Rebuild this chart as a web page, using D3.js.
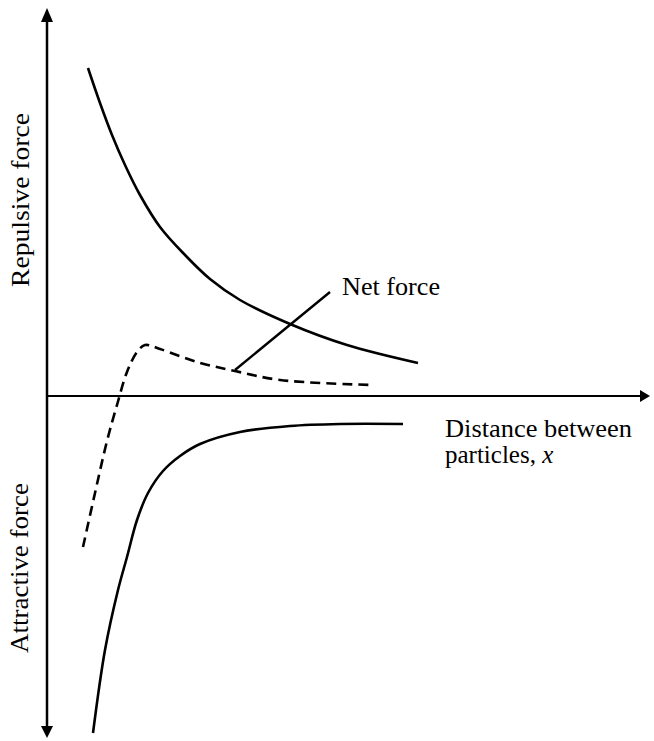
<!DOCTYPE html>
<html><head><meta charset="utf-8">
<script src="https://cdn.jsdelivr.net/npm/d3@7"></script>
<style>html,body{margin:0;padding:0;background:#fff;}</style>
</head><body>
<script>
// Data (arbitrary units: distance x, force y)
const repulsiveX = [4.1,5.3,6.5,7.8,9.3,11.3,13.8,16.3,19.3,24.3,30.0,37.1];
const repulsiveY = [32.8,29.3,26.1,23.1,20.1,16.9,14.1,11.7,9.6,7.2,5.1,3.3];
const netX = [3.6,4.8,6.0,7.0,8.0,9.0,9.8,11.3,15.0,18.8,23.3,32.6];
const netY = [-15.1,-9.7,-4.5,-0.9,2.4,4.4,5.1,4.7,3.4,2.5,1.6,1.1];
const attractiveX = [4.6,5.8,7.1,8.0,9.0,10.1,11.6,13.3,15.3,19.3,24.3,29.3,35.6];
const attractiveY = [-33.7,-25.4,-19.4,-16.1,-12.4,-9.7,-7.5,-6.0,-4.8,-3.6,-3.0,-2.8,-2.8];
const leaderX = [18.8,28.3];
const leaderY = [2.6,10.4];
const labels = {net:"Net force", xLine1:"Distance between", xLine2:"particles, ", xVar:"x", yTop:"Repulsive force", yBottom:"Attractive force"};

const W=654,H=741;
const svg=d3.select("body").append("svg").attr("width",W).attr("height",H);
const x=d3.scaleLinear().domain([0,60.3]).range([47,650]);
const y=d3.scaleLinear().domain([-34.2,38.8]).range([738,8]);
const serif="'Liberation Serif','Times New Roman',serif";

// axes
const axisG=svg.append("g");
axisG.append("line").attr("x1",x(0)).attr("x2",x(0)).attr("y1",y(38.8)+6).attr("y2",y(-34.2)-6)
  .attr("stroke","#000").attr("stroke-width",2.5);
axisG.append("line").attr("x1",x(0)).attr("x2",x(60.3)-6).attr("y1",y(0)).attr("y2",y(0))
  .attr("stroke","#000").attr("stroke-width",2);
const ax=x(0), yt=y(38.8), yb=y(-34.2), xr=x(60.3), y0=y(0);
axisG.append("path").attr("d",`M${ax},${yt} L${ax-6},${yt+14} L${ax+6},${yt+14} Z`).attr("fill","#000");
axisG.append("path").attr("d",`M${ax},${yb} L${ax-6},${yb-12} L${ax+6},${yb-12} Z`).attr("fill","#000");
axisG.append("path").attr("d",`M${xr},${y0} L${xr-10},${y0-6} L${xr-10},${y0+6} Z`).attr("fill","#000");

const line=d3.line().x(d=>x(d[0])).y(d=>y(d[1])).curve(d3.curveCatmullRom.alpha(0.5));
const zip=(a,b)=>a.map((v,i)=>[v,b[i]]);

svg.append("path").attr("d",line(zip(repulsiveX,repulsiveY))).attr("fill","none")
  .attr("stroke","#000").attr("stroke-width",2.6);
svg.append("path").attr("d",line(zip(attractiveX,attractiveY))).attr("fill","none")
  .attr("stroke","#000").attr("stroke-width",2.6);
svg.append("path").attr("d",line(zip(netX,netY))).attr("fill","none")
  .attr("stroke","#000").attr("stroke-width",2.6).attr("stroke-dasharray","10,6");
svg.append("path").attr("d",d3.line().x(d=>x(d[0])).y(d=>y(d[1]))(zip(leaderX,leaderY))).attr("fill","none")
  .attr("stroke","#000").attr("stroke-width",2.4);

// labels
svg.append("text").attr("x",342).attr("y",295).attr("font-family",serif).attr("font-size",26)
  .attr("textLength",98).attr("lengthAdjust","spacingAndGlyphs").text(labels.net);
svg.append("text").attr("x",445).attr("y",437).attr("font-family",serif).attr("font-size",25)
  .attr("textLength",187).attr("lengthAdjust","spacingAndGlyphs").text(labels.xLine1);
const t2=svg.append("text").attr("x",445).attr("y",463).attr("font-family",serif).attr("font-size",25);
t2.append("tspan").text(labels.xLine2);
t2.append("tspan").attr("font-style","italic").text(labels.xVar);
svg.append("text").attr("transform","translate(29,287) rotate(-90)").attr("font-family",serif).attr("font-size",26)
  .attr("textLength",174).attr("lengthAdjust","spacingAndGlyphs").text(labels.yTop);
svg.append("text").attr("transform","translate(28,653) rotate(-90)").attr("font-family",serif).attr("font-size",26)
  .attr("textLength",170).attr("lengthAdjust","spacingAndGlyphs").text(labels.yBottom);
</script>
</body></html>
